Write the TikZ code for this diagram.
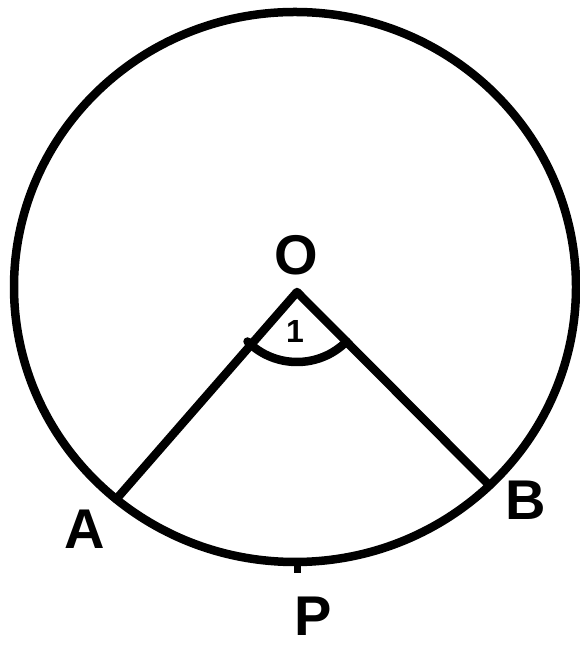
\documentclass[tikz,border=0pt]{standalone}
\usepackage{fontspec}
\setmainfont{Liberation Sans}
\usetikzlibrary{calc}
\begin{document}
\begin{tikzpicture}[x=1pt,y=1pt,
  stroke/.style={line width=8.5pt,line cap=round,line join=round},
  lbl/.style={font=\bfseries\fontsize{56}{56}\selectfont,inner sep=0pt}]
\useasboundingbox (0,0) rectangle (579,647);
\coordinate (C) at (295,360);
\draw[stroke] (C) ellipse [x radius=281, y radius=275];
\coordinate (O) at (297,355);
\coordinate (A) at ($(C)+(230.5:281 and 275)$);
\coordinate (B) at ($(C)+(-46.2:281 and 275)$);
\draw[stroke] (A) -- (O) -- (B);
\draw[stroke] (O) ++(225:70) arc[start angle=225,end angle=315,radius=70];
\coordinate (Pt) at (297,87);
\coordinate (Pb) at (297,74);
\draw[line width=7pt] (Pt) -- (Pb);
\node[lbl] (lO) at (296,392) {O};
\node[lbl] (lA) at (85,118) {A};
\node[lbl] (lB) at (526,147) {B};
\node[lbl] (lP) at (313,31) {P};
\node[inner sep=0pt,font=\bfseries\fontsize{32}{32}\selectfont] (l1) at (295,316) {1};
\end{tikzpicture}
\end{document}
